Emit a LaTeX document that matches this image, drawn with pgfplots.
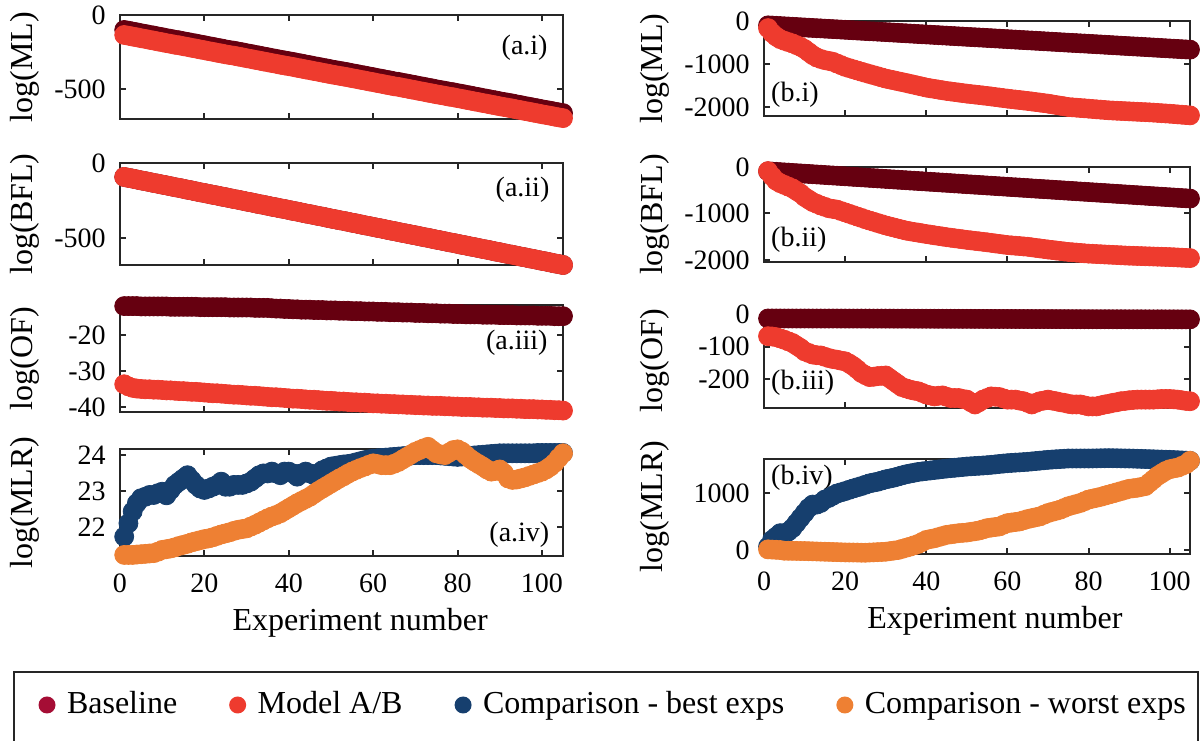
\documentclass[border=0pt]{standalone}
\usepackage{fontspec}
\setmainfont{Liberation Serif}
\usepackage{pgfplots}
\usepackage{pgfplotstable}
\pgfplotsset{compat=1.18}

\definecolor{cbase}{HTML}{660010}
\definecolor{cbaseleg}{HTML}{A50D35}
\definecolor{cmodel}{HTML}{EE3B2E}
\definecolor{cbest}{HTML}{163F6E}
\definecolor{cworst}{HTML}{EE8033}
\definecolor{caxis}{HTML}{262626}

% log(ML): x, baseline, model A, model B
\pgfplotstableread{
x base A B
1 -101 -135 -165
2 -106 -140 -280
3 -112 -146 -360
4 -117 -151 -420
5 -123 -157 -457
6 -128 -162 -488
7 -134 -168 -519
8 -139 -173 -558
9 -145 -179 -597
10 -150 -184 -650
11 -156 -190 -720
12 -161 -195 -790
13 -167 -201 -845
14 -171 -205 -880
15 -177 -211 -907
16 -182 -216 -925
17 -188 -222 -945
18 -193 -227 -985
19 -199 -233 -1023
20 -204 -238 -1062
21 -210 -244 -1090
22 -215 -249 -1118
23 -221 -255 -1146
24 -226 -260 -1174
25 -232 -266 -1201
26 -237 -271 -1228
27 -241 -275 -1254
28 -247 -281 -1280
29 -252 -286 -1307
30 -258 -292 -1333
31 -263 -297 -1353
32 -269 -303 -1373
33 -274 -308 -1394
34 -280 -314 -1414
35 -285 -319 -1434
36 -291 -325 -1456
37 -296 -330 -1477
38 -302 -336 -1499
39 -307 -341 -1520
40 -312 -346 -1542
41 -317 -351 -1558
42 -323 -357 -1573
43 -328 -362 -1589
44 -334 -368 -1604
45 -339 -373 -1620
46 -345 -379 -1632
47 -350 -384 -1645
48 -356 -390 -1657
49 -361 -395 -1670
50 -367 -401 -1682
51 -372 -406 -1693
52 -377 -411 -1704
53 -382 -416 -1714
54 -387 -421 -1725
55 -393 -427 -1736
56 -398 -432 -1748
57 -404 -438 -1761
58 -409 -443 -1773
59 -415 -449 -1786
60 -420 -454 -1798
61 -426 -460 -1809
62 -431 -465 -1820
63 -437 -471 -1830
64 -442 -476 -1841
65 -448 -482 -1852
66 -452 -486 -1864
67 -458 -492 -1877
68 -463 -497 -1889
69 -469 -503 -1902
70 -474 -508 -1914
71 -480 -514 -1930
72 -485 -519 -1945
73 -491 -525 -1961
74 -496 -530 -1976
75 -502 -536 -1992
76 -507 -541 -2000
77 -512 -546 -2007
78 -518 -552 -2015
79 -522 -556 -2022
80 -528 -562 -2030
81 -533 -567 -2038
82 -539 -573 -2046
83 -544 -578 -2053
84 -550 -584 -2061
85 -555 -589 -2069
86 -561 -595 -2074
87 -566 -600 -2079
88 -572 -606 -2083
89 -577 -611 -2088
90 -583 -617 -2093
91 -588 -622 -2098
92 -593 -627 -2102
93 -598 -632 -2107
94 -604 -638 -2111
95 -609 -643 -2116
96 -615 -649 -2122
97 -620 -654 -2128
98 -626 -660 -2135
99 -631 -665 -2141
100 -637 -671 -2147
101 -642 -676 -2155
102 -647 -681 -2163
103 -653 -687 -2170
104 -658 -692 -2178
105 -663 -697 -2186
}\tML

% log(BFL): x, model A (= baseline), model B
\pgfplotstableread{
x A B
1 -93 -89
2 -99 -200
3 -104 -296
4 -110 -348
5 -116 -385
6 -121 -422
7 -127 -459
8 -133 -515
9 -138 -570
10 -144 -644
11 -149 -700
12 -155 -755
13 -161 -792
14 -166 -829
15 -172 -858
16 -178 -888
17 -183 -903
18 -189 -918
19 -195 -948
20 -200 -977
21 -206 -1007
22 -212 -1036
23 -217 -1066
24 -223 -1095
25 -228 -1125
26 -234 -1152
27 -240 -1178
28 -245 -1205
29 -251 -1231
30 -257 -1258
31 -262 -1280
32 -268 -1302
33 -274 -1325
34 -279 -1347
35 -285 -1369
36 -291 -1384
37 -296 -1399
38 -302 -1413
39 -307 -1428
40 -313 -1443
41 -319 -1456
42 -324 -1470
43 -330 -1483
44 -336 -1497
45 -341 -1510
46 -347 -1522
47 -353 -1534
48 -358 -1545
49 -364 -1557
50 -370 -1569
51 -375 -1579
52 -381 -1590
53 -386 -1600
54 -392 -1611
55 -398 -1621
56 -403 -1633
57 -409 -1645
58 -415 -1656
59 -420 -1668
60 -426 -1680
61 -432 -1687
62 -437 -1695
63 -443 -1702
64 -449 -1710
65 -454 -1717
66 -460 -1729
67 -466 -1741
68 -471 -1752
69 -477 -1764
70 -482 -1776
71 -488 -1786
72 -494 -1797
73 -499 -1807
74 -505 -1818
75 -511 -1828
76 -516 -1835
77 -522 -1843
78 -528 -1850
79 -533 -1858
80 -539 -1865
81 -545 -1869
82 -550 -1874
83 -556 -1878
84 -561 -1883
85 -567 -1887
86 -573 -1891
87 -578 -1896
88 -584 -1900
89 -590 -1905
90 -595 -1909
91 -601 -1912
92 -607 -1915
93 -612 -1918
94 -618 -1921
95 -624 -1924
96 -629 -1927
97 -635 -1930
98 -640 -1933
99 -646 -1936
100 -652 -1939
101 -657 -1943
102 -663 -1948
103 -669 -1952
104 -674 -1957
105 -680 -1961
}\tBFL

% log(OF): x, baseline, model A, model B
\pgfplotstableread{
x base A B
1 -12.0 -33.7 -67
2 -12.0 -34.3 -68
3 -12.0 -34.7 -70
4 -12.0 -34.9 -74
5 -12.1 -35.0 -78
6 -12.1 -35.1 -83
7 -12.1 -35.1 -88
8 -12.1 -35.2 -96
9 -12.1 -35.2 -104
10 -12.1 -35.3 -114
11 -12.1 -35.4 -119
12 -12.2 -35.4 -124
13 -12.2 -35.5 -126
14 -12.2 -35.6 -127
15 -12.2 -35.6 -131
16 -12.2 -35.7 -135
17 -12.2 -35.8 -138
18 -12.2 -35.8 -140
19 -12.3 -35.9 -143
20 -12.3 -36.0 -145
21 -12.3 -36.1 -152
22 -12.3 -36.2 -160
23 -12.3 -36.2 -170
24 -12.3 -36.3 -181
25 -12.3 -36.4 -188
26 -12.4 -36.5 -194
27 -12.4 -36.6 -193
28 -12.4 -36.6 -191
29 -12.4 -36.7 -190
30 -12.4 -36.8 -189
31 -12.4 -36.9 -198
32 -12.5 -36.9 -207
33 -12.5 -37.0 -216
34 -12.5 -37.1 -225
35 -12.5 -37.2 -229
36 -12.6 -37.3 -233
37 -12.7 -37.3 -236
38 -12.7 -37.4 -238
39 -12.8 -37.5 -243
40 -12.8 -37.6 -248
41 -12.9 -37.7 -251
42 -12.9 -37.7 -254
43 -13.0 -37.8 -252
44 -13.0 -37.9 -251
45 -13.0 -38.0 -255
46 -13.1 -38.0 -259
47 -13.1 -38.1 -259
48 -13.1 -38.2 -259
49 -13.2 -38.3 -262
50 -13.2 -38.3 -264
51 -13.2 -38.4 -272
52 -13.3 -38.5 -279
53 -13.3 -38.5 -272
54 -13.3 -38.6 -264
55 -13.4 -38.7 -259
56 -13.4 -38.7 -254
57 -13.4 -38.8 -255
58 -13.5 -38.8 -256
59 -13.5 -38.9 -260
60 -13.5 -39.0 -264
61 -13.6 -39.0 -264
62 -13.6 -39.1 -264
63 -13.6 -39.1 -267
64 -13.7 -39.2 -269
65 -13.7 -39.2 -274
66 -13.7 -39.3 -279
67 -13.8 -39.3 -274
68 -13.8 -39.4 -269
69 -13.8 -39.4 -267
70 -13.9 -39.5 -264
71 -13.9 -39.5 -267
72 -13.9 -39.6 -269
73 -14.0 -39.6 -272
74 -14.0 -39.7 -274
75 -14.0 -39.7 -277
76 -14.1 -39.7 -279
77 -14.1 -39.8 -279
78 -14.1 -39.8 -279
79 -14.2 -39.9 -282
80 -14.2 -39.9 -285
81 -14.2 -40.0 -285
82 -14.3 -40.0 -285
83 -14.3 -40.0 -282
84 -14.3 -40.1 -279
85 -14.3 -40.1 -277
86 -14.4 -40.2 -274
87 -14.4 -40.2 -272
88 -14.4 -40.2 -269
89 -14.4 -40.3 -268
90 -14.5 -40.3 -266
91 -14.5 -40.4 -265
92 -14.5 -40.4 -264
93 -14.5 -40.4 -264
94 -14.6 -40.5 -264
95 -14.6 -40.5 -264
96 -14.6 -40.6 -264
97 -14.6 -40.6 -263
98 -14.6 -40.6 -262
99 -14.7 -40.7 -262
100 -14.7 -40.7 -262
101 -14.7 -40.8 -263
102 -14.7 -40.8 -264
103 -14.8 -40.9 -266
104 -14.8 -40.9 -268
105 -14.8 -41.0 -269
}\tOF

% log(MLR): x, A best, A worst, B best, B worst
\pgfplotstableread{
x Abest Aworst Bbest Bworst
1 21.73 21.22 60 12
2 22.10 21.22 179 8
3 22.43 21.22 238 4
4 22.66 21.23 298 0
5 22.80 21.24 298 -12
6 22.84 21.25 327 -13
7 22.89 21.26 387 -14
8 22.89 21.27 476 -15
9 22.94 21.31 566 -17
10 22.98 21.36 655 -18
11 22.88 21.38 744 -20
12 23.03 21.40 804 -23
13 23.17 21.43 804 -25
14 23.26 21.47 833 -28
15 23.35 21.50 893 -30
16 23.44 21.53 923 -32
17 23.30 21.57 962 -35
18 23.17 21.60 1000 -37
19 23.07 21.63 1021 -40
20 23.03 21.66 1042 -42
21 23.07 21.68 1066 -43
22 23.12 21.71 1089 -44
23 23.17 21.75 1110 -45
24 23.26 21.79 1131 -47
25 23.12 21.82 1155 -48
26 23.12 21.85 1179 -44
27 23.17 21.89 1194 -41
28 23.17 21.92 1208 -37
29 23.17 21.94 1229 -34
30 23.21 21.96 1250 -30
31 23.26 22.01 1265 -20
32 23.35 22.06 1280 -10
33 23.44 22.12 1300 0
34 23.49 22.18 1320 20
35 23.49 22.24 1339 40
36 23.54 22.29 1353 60
37 23.49 22.33 1367 84
38 23.44 22.38 1381 107
39 23.54 22.45 1390 143
40 23.54 22.52 1399 179
41 23.49 22.59 1407 194
42 23.40 22.66 1416 208
43 23.49 22.72 1424 228
44 23.54 22.78 1433 248
45 23.49 22.84 1441 268
46 23.44 22.92 1448 278
47 23.49 23.00 1455 288
48 23.58 23.07 1462 298
49 23.63 23.14 1469 304
50 23.68 23.21 1476 310
51 23.70 23.28 1481 322
52 23.72 23.35 1486 333
53 23.74 23.41 1490 345
54 23.75 23.48 1495 366
55 23.77 23.54 1500 387
56 23.80 23.59 1507 397
57 23.83 23.64 1514 407
58 23.86 23.68 1522 417
59 23.88 23.73 1529 447
60 23.90 23.77 1536 476
61 23.91 23.75 1541 486
62 23.92 23.72 1546 496
63 23.93 23.72 1550 506
64 23.94 23.72 1555 527
65 23.95 23.76 1560 548
66 23.96 23.81 1567 564
67 23.97 23.88 1574 580
68 23.98 23.95 1581 595
69 23.99 24.02 1588 625
70 24.00 24.09 1595 655
71 24.00 24.14 1600 675
72 24.00 24.19 1605 694
73 24.00 24.23 1609 714
74 24.00 24.14 1614 744
75 24.00 24.05 1619 774
76 23.99 24.02 1619 794
77 23.98 24.00 1619 813
78 23.97 24.07 1619 833
79 23.96 24.14 1619 863
80 23.95 24.16 1619 893
81 23.96 24.10 1620 909
82 23.97 24.00 1621 925
83 23.98 23.90 1623 941
84 23.99 23.82 1624 962
85 24.00 23.75 1625 982
86 24.01 23.68 1624 1002
87 24.02 23.60 1623 1022
88 24.03 23.54 1621 1042
89 24.04 23.56 1620 1063
90 24.05 23.60 1619 1083
91 24.05 23.50 1617 1092
92 24.05 23.35 1614 1101
93 24.05 23.31 1612 1116
94 24.05 23.32 1609 1131
95 24.05 23.35 1607 1191
96 24.05 23.38 1605 1250
97 24.05 23.42 1602 1310
98 24.05 23.46 1600 1355
99 24.06 23.50 1597 1399
100 24.06 23.54 1595 1429
101 24.06 23.60 1592 1444
102 24.06 23.68 1588 1458
103 24.06 23.78 1585 1488
104 24.06 23.92 1581 1518
105 24.06 24.05 1578 1578
}\tMLR

\pgfplotsset{
  panel/.style={
    scale only axis, clip=false,
    anchor=south west,
    xmin=0, xmax=105,
    xtick={0,20,40,60,80,100}, xticklabels={},
    tick align=inside, tick pos=both,
    major tick length=3pt,
    axis line style={caxis, line width=1pt},
    major tick style={caxis, line width=1pt},
    tick label style={font=\fontsize{14}{16}\selectfont, text=black},
    yticklabel style={anchor=east, inner sep=0pt, xshift=-7pt},
    xticklabel style={anchor=north, inner sep=0pt, yshift=-8.8pt},
    every axis x label/.style={at={(axis description cs:0.542,0)}, anchor=center, yshift=-33.5pt, font=\fontsize{16}{19}\selectfont},
  },
  leftcol/.style={panel, width=221.5pt,
    every axis y label/.style={at={(axis description cs:-0.2144,0.5)}, anchor=center, rotate=90, font=\fontsize{16}{19}\selectfont}},
  rightcol/.style={panel, width=213pt,
    every axis y label/.style={at={(axis description cs:-0.2559,0.5)}, anchor=center, rotate=90, font=\fontsize{16}{19}\selectfont}},
  bottomrow/.style={xticklabels={0,20,40,60,80,100}, xlabel={Experiment number}},
  sbase/.style={only marks, mark=*, mark size=4.75pt, color=cbase, mark options={draw=none, fill=cbase}},
  smodel/.style={only marks, mark=*, mark size=4.75pt, color=cmodel, mark options={draw=none, fill=cmodel}},
  sbest/.style={only marks, mark=*, mark size=4.75pt, color=cbest, mark options={draw=none, fill=cbest}},
  sworst/.style={only marks, mark=*, mark size=4.75pt, color=cworst, mark options={draw=none, fill=cworst}},
}
\tikzset{panellab/.style={font=\fontsize{14}{16}\selectfont, inner sep=0pt}}

\begin{document}
\begin{tikzpicture}

% ---------------- left column ----------------
\begin{axis}[leftcol, at={(60pt,310.5pt)}, height=52pt,
  ymin=-703, ymax=0, ytick={-500,0}, yticklabels={-500,0}, ylabel={log(ML)}]
\addplot[sbase] table[x=x,y=base]{\tML};
\addplot[smodel] table[x=x,y=A]{\tML};
\node[panellab, anchor=east] at (rel axis cs:0.966,0.683) {(a.i)};
\end{axis}

\begin{axis}[leftcol, at={(60pt,237.5pt)}, height=51pt,
  ymin=-680, ymax=0, ytick={-500,0}, yticklabels={-500,0}, ylabel={log(BFL)}]
\addplot[sbase] table[x=x,y=A]{\tBFL};
\addplot[smodel] table[x=x,y=A]{\tBFL};
\node[panellab, anchor=east] at (rel axis cs:0.97,0.735) {(a.ii)};
\end{axis}

\begin{axis}[leftcol, at={(60pt,164pt)}, height=53.5pt,
  ymin=-41.4, ymax=-11.7, ytick={-40,-30,-20}, yticklabels={-40,-30,-20}, ylabel={log(OF)}]
\addplot[sbase] table[x=x,y=base]{\tOF};
\addplot[smodel] table[x=x,y=A]{\tOF};
\node[panellab, anchor=east] at (rel axis cs:0.966,0.645) {(a.iii)};
\end{axis}

\begin{axis}[leftcol, bottomrow, at={(60pt,92pt)}, height=53.5pt,
  ymin=21.19, ymax=24.17, ytick={22,23,24}, yticklabels={22,23,24}, ylabel={log(MLR)}]
\addplot[sbest] table[x=x,y=Abest]{\tMLR};
\addplot[sworst] table[x=x,y=Aworst]{\tMLR};
\node[panellab, anchor=east] at (rel axis cs:0.97,0.196) {(a.iv)};
\end{axis}

% ---------------- right column ----------------
\begin{axis}[rightcol, at={(382pt,312pt)}, height=47.5pt,
  ymin=-2200, ymax=0, ytick={-2000,-1000,0}, yticklabels={-2000,-1000,0}, ylabel={log(ML)}]
\addplot[sbase] table[x=x,y=base]{\tML};
\addplot[smodel] table[x=x,y=B]{\tML};
\node[panellab, anchor=west] at (rel axis cs:0.016,0.22) {(b.i)};
\end{axis}

\begin{axis}[rightcol, at={(382pt,239pt)}, height=47.5pt,
  ymin=-2045, ymax=0, ytick={-2000,-1000,0}, yticklabels={-2000,-1000,0}, ylabel={log(BFL)}]
\addplot[sbase] table[x=x,y=A]{\tBFL};
\addplot[smodel] table[x=x,y=B]{\tBFL};
\node[panellab, anchor=west] at (rel axis cs:0.016,0.23) {(b.ii)};
\end{axis}

\begin{axis}[rightcol, at={(382pt,166pt)}, height=47.5pt,
  ymin=-290, ymax=5, ytick={-200,-100,0}, yticklabels={-200,-100,0}, ylabel={log(OF)}]
\addplot[sbase] table[x=x,y=base]{\tOF};
\addplot[smodel] table[x=x,y=B]{\tOF};
\node[panellab, anchor=west] at (rel axis cs:0.016,0.27) {(b.iii)};
\end{axis}

\begin{axis}[rightcol, bottomrow, at={(382pt,93pt)}, height=47.5pt,
  ymin=-70, ymax=1610, ytick={0,1000}, yticklabels={0,1000}, ylabel={log(MLR)}]
\addplot[sbest] table[x=x,y=Bbest]{\tMLR};
\addplot[sworst] table[x=x,y=Bworst]{\tMLR};
\node[panellab, anchor=west] at (rel axis cs:0.016,0.8) {(b.iv)};
\end{axis}

% ---------------- legend ----------------
\begin{axis}[at={(0pt,0pt)}, anchor=south west, scale only axis,
  width=600.5pt, height=370pt, xmin=0, xmax=1, ymin=0, ymax=1, hide axis,
  legend columns=4,
  legend image code/.code={\fill[#1] (4.25pt,0pt) circle (4.25pt);},
  legend style={draw=none, fill=none, inner sep=0pt, outer sep=0pt,
    at={(0.03206,0.0473)}, anchor=west,
    font=\fontsize{16}{19}\selectfont,
    nodes={inner sep=0pt, text height=12pt, text depth=3pt},
    /tikz/every odd column/.append style={column sep=5.75pt},
    /tikz/every even column/.append style={column sep=26pt}},
  legend cell align=left]
\addlegendimage{fill=cbaseleg, draw=none}
\addlegendentry{Baseline}
\addlegendimage{fill=cmodel, draw=none}
\addlegendentry{Model A/B}
\addlegendimage{fill=cbest, draw=none}
\addlegendentry{Comparison - best exps}
\addlegendimage{fill=cworst, draw=none}
\addlegendentry{Comparison - worst exps}
\end{axis}

\draw[caxis, line width=1pt] (7pt,-1pt) -- (7pt,34pt) -- (599pt,34pt) -- (599pt,-1pt);

\pgfresetboundingbox
\path[use as bounding box] (0pt,0pt) rectangle (600.5pt,370pt);
\end{tikzpicture}
\end{document}
